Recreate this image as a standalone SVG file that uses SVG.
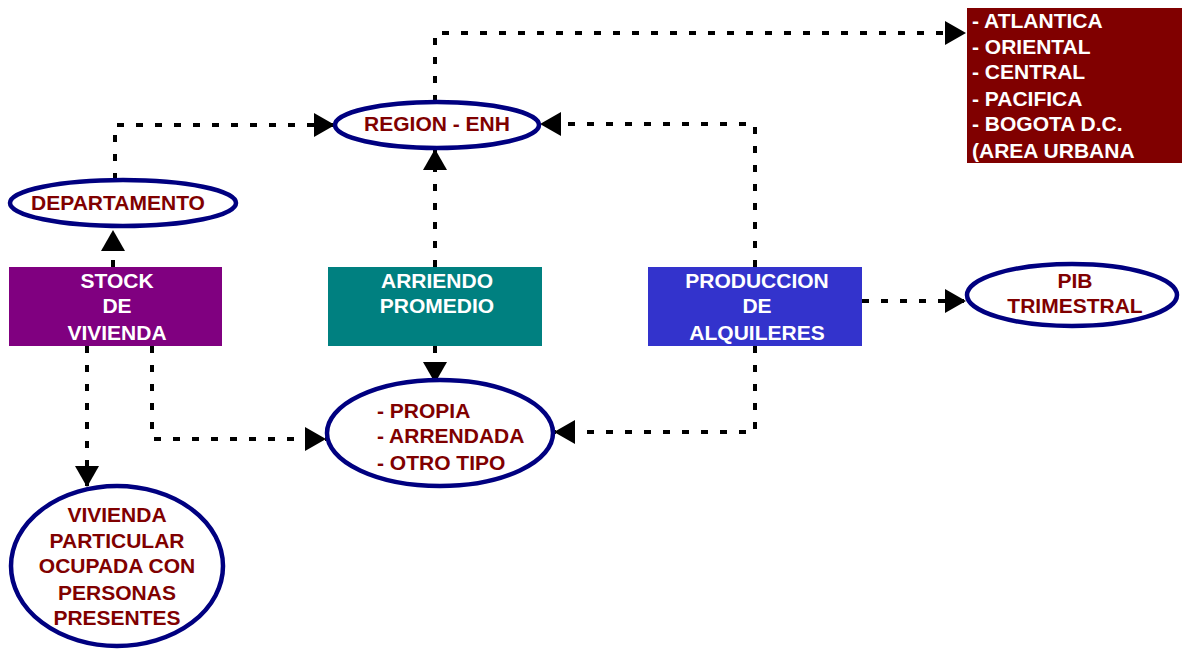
<svg xmlns="http://www.w3.org/2000/svg" width="1186" height="651" viewBox="0 0 1186 651">
<style>
.t{font-family:"Liberation Sans",Arial,sans-serif;font-weight:bold;font-size:21px}
.m{fill:#800000}
.w{fill:#ffffff}
.c{text-anchor:middle}
.el{fill:#ffffff;stroke:#000080;stroke-width:4.5}
.cn{fill:none;stroke:#000000;stroke-width:4;stroke-dasharray:7 12;marker-end:url(#arr)}
</style>
<defs>
<marker id="arr" markerWidth="21" markerHeight="24" refX="21" refY="12" orient="auto" markerUnits="userSpaceOnUse">
<path d="M0,0 L21,12 L0,24 Z" fill="#000000"/>
</marker>
</defs>
<rect width="1186" height="651" fill="#ffffff"/>
<g id="connectors">
<path class="cn" d="M113,267 L113,230"/>
<path class="cn" d="M115,180 L115,125 L335,125"/>
<path class="cn" d="M435,267 L435,149"/>
<path class="cn" d="M435,102 L435,33 L966,33"/>
<path class="cn" d="M755,267 L755,124 L540,124"/>
<path class="cn" d="M862,301 L966,301"/>
<path class="cn" d="M435,346 L435,383"/>
<path class="cn" d="M755,346 L755,432 L554,432"/>
<path class="cn" d="M152,346 L152,439 L326,439"/>
<path class="cn" d="M87,346 L87,487"/>
</g>
<g id="regiones">
<rect x="967" y="8" width="215" height="155" fill="#800000"/>
<text class="t w" x="972" y="28">- ATLANTICA</text>
<text class="t w" x="972" y="54">- ORIENTAL</text>
<text class="t w" x="972" y="79">- CENTRAL</text>
<text class="t w" x="972" y="106">- PACIFICA</text>
<text class="t w" x="972" y="131">- BOGOTA D.C.</text>
<text class="t w" x="972" y="158">(AREA URBANA</text>
</g>
<g id="region-enh">
<ellipse class="el" cx="437" cy="125" rx="102" ry="23"/>
<text class="t m c" x="437" y="131">REGION - ENH</text>
</g>
<g id="departamento">
<ellipse class="el" cx="123" cy="203" rx="113" ry="23"/>
<text class="t m c" x="118" y="210">DEPARTAMENTO</text>
</g>
<g id="stock">
<rect x="9" y="267" width="213" height="79" fill="#800080"/>
<text class="t w c" x="117" y="288">STOCK</text>
<text class="t w c" x="117" y="313">DE</text>
<text class="t w c" x="117" y="340">VIVIENDA</text>
</g>
<g id="arriendo">
<rect x="328" y="267" width="214" height="79" fill="#008080"/>
<text class="t w c" x="437" y="288">ARRIENDO</text>
<text class="t w c" x="437" y="313">PROMEDIO</text>
</g>
<g id="produccion">
<rect x="648" y="267" width="214" height="79" fill="#3333CC"/>
<text class="t w c" x="757" y="288">PRODUCCION</text>
<text class="t w c" x="757" y="313">DE</text>
<text class="t w c" x="757" y="340">ALQUILERES</text>
</g>
<g id="pib">
<ellipse class="el" cx="1072" cy="295" rx="105" ry="31"/>
<text class="t m c" x="1075" y="288">PIB</text>
<text class="t m c" x="1075" y="313">TRIMESTRAL</text>
</g>
<g id="tenencia">
<ellipse class="el" cx="440" cy="433" rx="113" ry="53"/>
<text class="t m" x="377" y="418">- PROPIA</text>
<text class="t m" x="377" y="443">- ARRENDADA</text>
<text class="t m" x="377" y="470">- OTRO TIPO</text>
</g>
<g id="vivienda">
<ellipse class="el" cx="117" cy="566" rx="106" ry="80"/>
<text class="t m c" x="117" y="522">VIVIENDA</text>
<text class="t m c" x="117" y="548">PARTICULAR</text>
<text class="t m c" x="117" y="573">OCUPADA CON</text>
<text class="t m c" x="117" y="600">PERSONAS</text>
<text class="t m c" x="117" y="625">PRESENTES</text>
</g>
</svg>
